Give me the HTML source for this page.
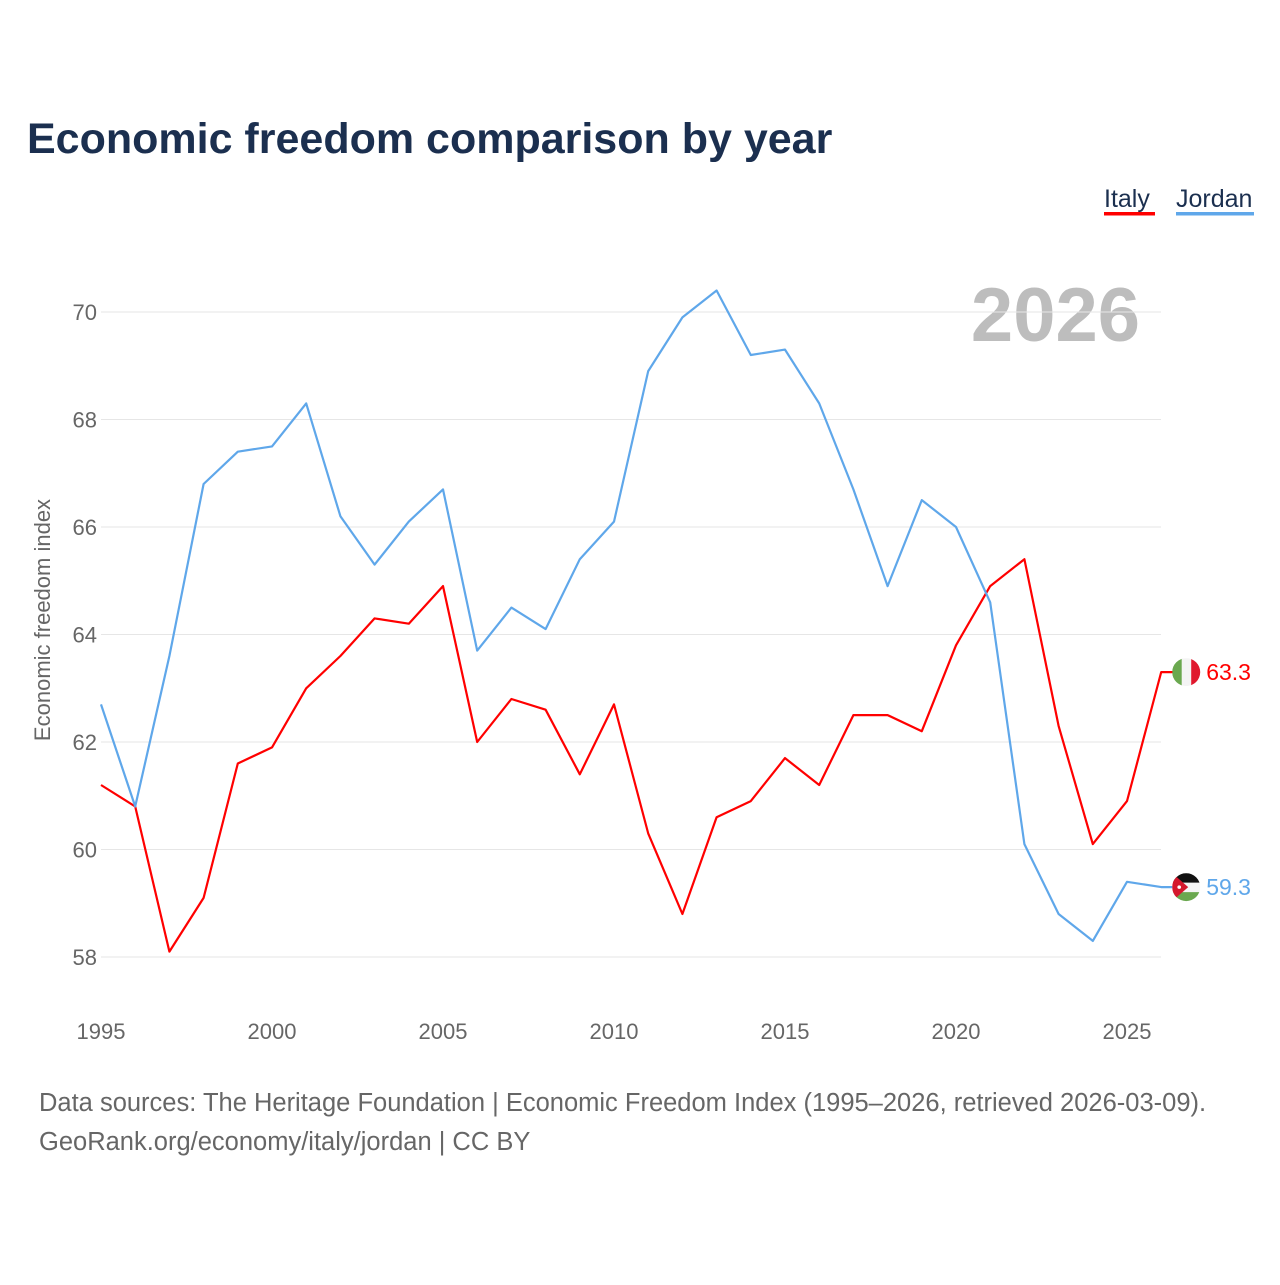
<!DOCTYPE html>
<html><head><meta charset="utf-8">
<style>
body{margin:0;background:#fff;width:1280px;height:1280px;overflow:hidden;font-family:"Liberation Sans",sans-serif;}
svg text{font-family:"Liberation Sans",sans-serif;}
</style></head>
<body>
<svg id="chart" width="1280" height="1280" xmlns="http://www.w3.org/2000/svg">
<text x="27" y="153" font-size="43" font-weight="bold" fill="#1b2f4f">Economic freedom comparison by year</text>
<g>
<g><text x="1104" y="207" font-size="25" fill="#1b2f4f">Italy</text><rect x="1104" y="212" width="51" height="3.5" fill="#ff0000"/></g>
<g><text x="1176" y="207" font-size="25" fill="#1b2f4f">Jordan</text><rect x="1176" y="212" width="78" height="3.5" fill="#5fa7ea"/></g>
</g>
<text x="1140" y="341" font-size="76" font-weight="bold" fill="#bdbdbd" text-anchor="end">2026</text>
<text transform="translate(50,620) rotate(-90)" font-size="22" fill="#666" text-anchor="middle">Economic freedom index</text>
<g id="grid"></g><g id="yt"></g><g id="xt"></g><g id="series"></g>
<text x="39" y="1111" font-size="25.5" fill="#666">Data sources: The Heritage Foundation | Economic Freedom Index (1995–2026, retrieved 2026-03-09).</text>
<text x="39" y="1150" font-size="25.5" fill="#666">GeoRank.org/economy/italy/jordan | CC BY</text>
</svg>
<script>
const years=[];for(let y=1995;y<=2026;y++)years.push(y);
const italy=[61.2,60.8,58.1,59.1,61.6,61.9,63.0,63.6,64.3,64.2,64.9,62.0,62.8,62.6,61.4,62.7,60.3,58.8,60.6,60.9,61.7,61.2,62.5,62.5,62.2,63.8,64.9,65.4,62.3,60.1,60.9,63.3];
const jordan=[62.7,60.8,63.6,66.8,67.4,67.5,68.3,66.2,65.3,66.1,66.7,63.7,64.5,64.1,65.4,66.1,68.9,69.9,70.4,69.2,69.3,68.3,66.7,64.9,66.5,66.0,64.6,60.1,58.8,58.3,59.4,59.3];
const yTicks=[58,60,62,64,66,68,70];
const xTicks=[1995,2000,2005,2010,2015,2020,2025];
const NS="http://www.w3.org/2000/svg";
const xs=y=>101+(y-1995)*(1127-101)/30;
const ys=v=>957-(v-58)*(957-312)/12;
function mk(tag,attrs,parent,txt){const e=document.createElementNS(NS,tag);for(const k in attrs)e.setAttribute(k,attrs[k]);if(txt!=null)e.textContent=txt;document.getElementById(parent).appendChild(e);return e;}
yTicks.forEach(t=>{
 const l=mk('line',{x1:101,x2:1161,y1:ys(t),y2:ys(t),stroke:'#e6e6e6','stroke-width':1},'grid');
 
 
 const tx=mk('text',{x:97,y:ys(t)+8,'font-size':22,fill:'#666','text-anchor':'end'},'yt',t);
 
 
});
xTicks.forEach(t=>{
 const tx=mk('text',{x:xs(t),y:1039,'font-size':22,fill:'#666','text-anchor':'middle'},'xt',t);
 
 
});
function line(data,color,name){
 const lx=xs(years[years.length-1]),ly=ys(data[data.length-1]);
 const d=data.map((v,i)=>(i?'L':'M')+xs(years[i]).toFixed(1)+','+ys(v).toFixed(1)).join('')+'L'+(lx+12)+','+ly.toFixed(1);
 const p=mk('path',{d:d,fill:'none',stroke:color,'stroke-width':2.2,'stroke-linejoin':'round'},'series');
 
 
 const last=data[data.length-1];
 const tx=mk('text',{x:lx+45,y:ly+8,'font-size':23,fill:color},'series',last.toFixed(1));
 
 
 return [lx+25,ly];
}
const [ix,iy]=line(italy,'#ff0000','italy');
const [jx,jy]=line(jordan,'#5fa7ea','jordan');
const fi=mk('g',{},'series');


fi.innerHTML=`<clipPath id="ci"><circle cx="${ix}" cy="${iy}" r="14"/></clipPath><g clip-path="url(#ci)"><rect x="${ix-14}" y="${iy-14}" width="10" height="28" fill="#6aa84f"/><rect x="${ix-4.5}" y="${iy-14}" width="9.5" height="28" fill="#f4f4f4"/><rect x="${ix+5}" y="${iy-14}" width="10" height="28" fill="#e0182d"/></g>`;
const fj=mk('g',{},'series');


fj.innerHTML=`<clipPath id="cj"><circle cx="${jx}" cy="${jy}" r="14"/></clipPath><g clip-path="url(#cj)"><rect x="${jx-14}" y="${jy-14}" width="28" height="10" fill="#111"/><rect x="${jx-14}" y="${jy-4.5}" width="28" height="9.5" fill="#f4f4f4"/><rect x="${jx-14}" y="${jy+5}" width="28" height="10" fill="#6aa84f"/><polygon points="${jx-14},${jy-14} ${jx+2},${jy} ${jx-14},${jy+14}" fill="#d5182d"/><circle cx="${jx-7}" cy="${jy}" r="1.8" fill="#fff"/></g>`;
</script>
</body></html>
